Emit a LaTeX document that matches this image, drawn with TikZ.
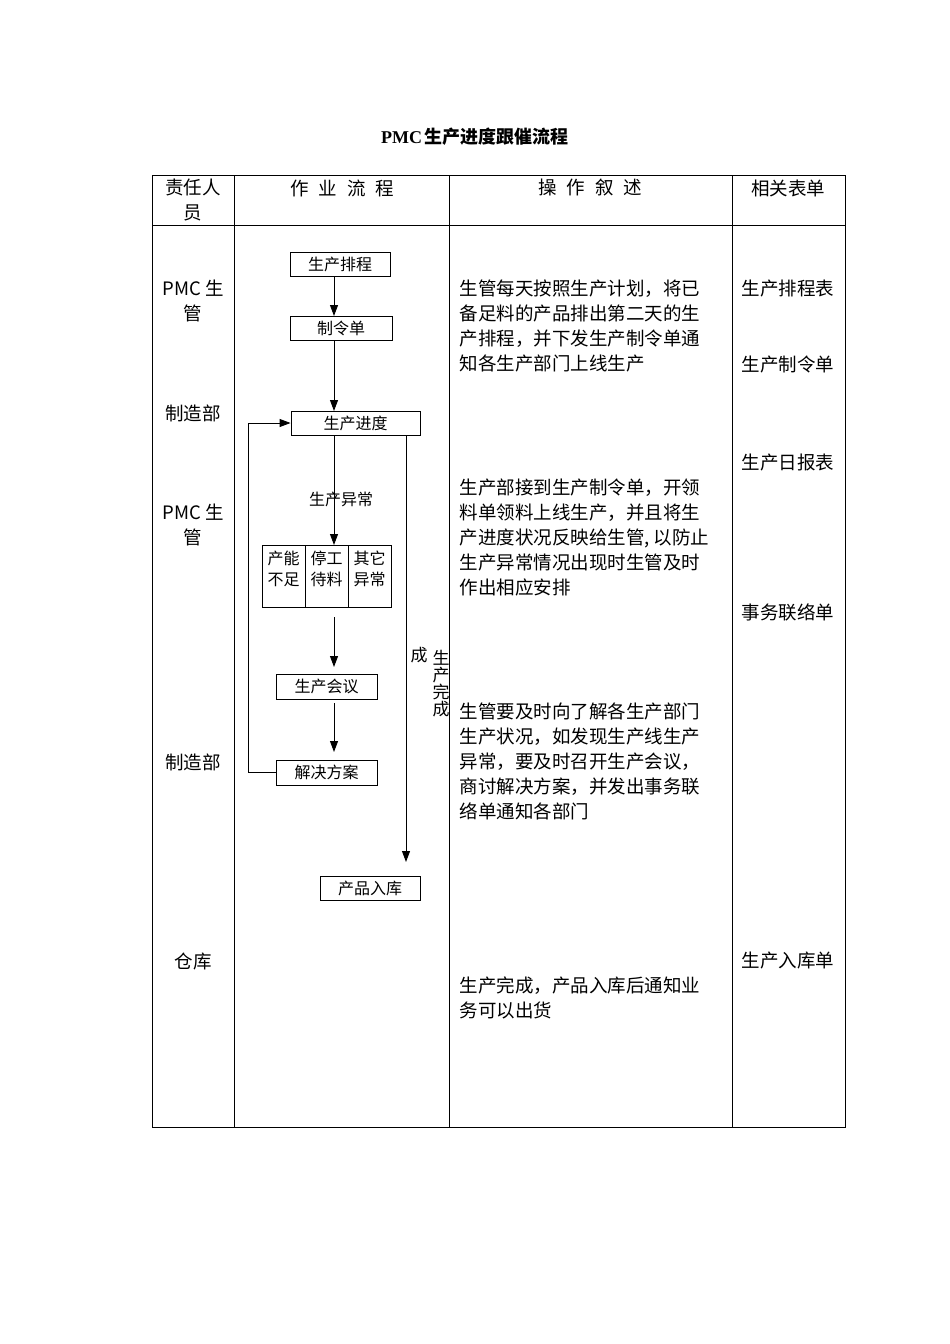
\documentclass[tikz,border=0pt]{standalone}
\usepackage{fontspec}
\setmainfont{Liberation Serif}
\newfontfamily\cjk{Noto Sans CJK SC}
\usetikzlibrary{arrows.meta}
\begin{document}
\begin{tikzpicture}[x=1pt,y=-1pt,
  cell/.style={font=\cjk\fontsize{18.5}{25}\selectfont},
  fbox/.style={draw,line width=0.9pt,font=\cjk\fontsize{16}{20}\selectfont,inner sep=0pt},
  arr/.style={-{Triangle[length=11pt,width=8pt]},line width=0.9pt},
  ln/.style={line width=0.9pt}]
\useasboundingbox (0,0) rectangle (950,1344);
\node[font=\bfseries\fontsize{18}{20}\selectfont] (title) at (475,137) {PMC\,{\cjk 生产进度跟催流程}};
% table
\draw[line width=0.7pt] (152,175) rectangle (845,1127);
\draw[line width=0.7pt] (152,225) -- (845,225);
\foreach \x in {234,449,732} \draw[line width=0.7pt] (\x,175) -- (\x,1127);
% header
\node[cell,align=center] (h1) at (193,200) {责任人\\员};
\node[cell] (h2) at (342,188) {作\hspace{10pt}业\hspace{10pt}流\hspace{10pt}程};
\node[cell] (h3) at (590,188) {操\hspace{10pt}作\hspace{10pt}叙\hspace{10pt}述};
\node[cell] (h4) at (788,188) {相关表单};
% left col
\node[cell,align=center] (p1) at (193,301) {PMC 生\\管};
\node[cell] (p2) at (193,413) {制造部};
\node[cell,align=center] (p3) at (193,525) {PMC 生\\管};
\node[cell] (p4) at (193,762) {制造部};
\node[cell] (p5) at (193,961) {仓库};
% right col
\node[cell] (r1) at (788,289) {生产排程表};
\node[cell] (r2) at (788,364) {生产制令单};
\node[cell] (r3) at (788,463) {生产日报表};
\node[cell] (r4) at (788,612) {事务联络单};
\node[cell] (r5) at (788,961) {生产入库单};
% descriptions
\node[cell,align=left,anchor=north west] (d1) at (456,276) {生管每天按照生产计划，将已\\备足料的产品排出第二天的生\\产排程，并下发生产制令单通\\知各生产部门上线生产};
\node[cell,align=left,anchor=north west] (d2) at (456,475) {生产部接到生产制令单，开领\\料单领料上线生产，并且将生\\产进度状况反映给生管, 以防止\\生产异常情况出现时生管及时\\作出相应安排};
\node[cell,align=left,anchor=north west] (d3) at (456,699) {生管要及时向了解各生产部门\\生产状况，如发现生产线生产\\异常，要及时召开生产会议，\\商讨解决方案，并发出事务联\\络单通知各部门};
\node[cell,align=left,anchor=north west] (d4) at (456,973) {生产完成，产品入库后通知业\\务可以出货};
% flowchart
\node[fbox,minimum width=100pt,minimum height=24pt] (a) at (340,264) {生产排程};
\node[fbox,minimum width=102pt,minimum height=24pt] (b) at (341,328) {制令单};
\node[fbox,minimum width=129pt,minimum height=24pt] (c) at (355.5,423) {生产进度};
\node[fbox,minimum width=129pt,minimum height=62pt] (g) at (326.5,576) {};
\draw[ln] (305,545) -- (305,607) (348,545) -- (348,607);
\node[font=\cjk\fontsize{16}{21}\selectfont,align=center] (g1) at (283.5,569) {产能\\不足};
\node[font=\cjk\fontsize{16}{21}\selectfont,align=center] (g2) at (326.5,569) {停工\\待料};
\node[font=\cjk\fontsize{16}{21}\selectfont,align=center] (g3) at (369.5,569) {其它\\异常};
\node[fbox,minimum width=101pt,minimum height=25pt] (m) at (326.5,686.5) {生产会议};
\node[fbox,minimum width=101pt,minimum height=25pt] (s) at (326.5,772.5) {解决方案};
\node[fbox,minimum width=100pt,minimum height=24pt] (k) at (370,888) {产品入库};
\draw[arr] (334,276) -- (334,316);
\draw[arr] (334,340) -- (334,411);
\draw[arr] (334,435) -- (334,545);
\node[font=\cjk\fontsize{16}{20}\selectfont] (lab) at (341,499) {生产异常};
\coordinate (t1) at (334,617);
\draw[arr] (t1) -- (334,667);
\draw[arr] (334,703) -- (334,752);
\coordinate (lp1) at (248,772.5);
\coordinate (lp2) at (248,423);
\draw[ln] (s.west) -- (lp1) -- (lp2);
\draw[arr] (lp2) -- (c.west);
\coordinate (rt) at (406,435);
\coordinate (re) at (406,862);
\draw[arr] (rt) -- (re);
\node[font=\cjk\fontsize{17}{18}\selectfont] (cheng) at (419,655) {成};
\node[font=\cjk\fontsize{17}{17}\selectfont,align=center] (sc) at (441,684) {生\\产\\完\\成};
\end{tikzpicture}
\end{document}
